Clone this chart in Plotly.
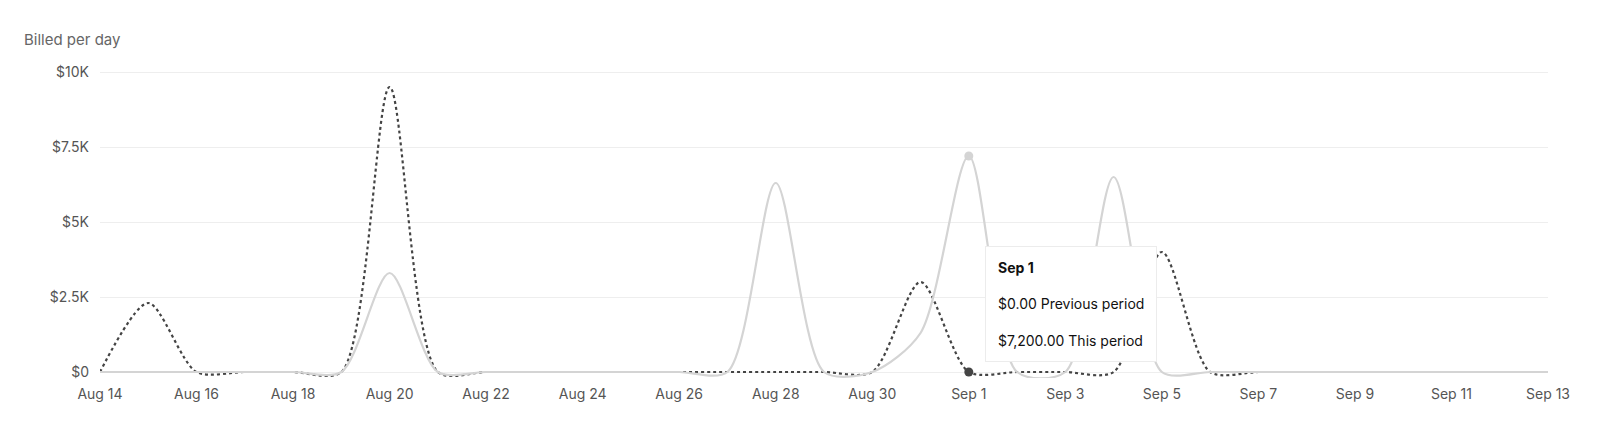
import pandas as pd
import plotly.graph_objects as go

# data
dates = pd.date_range("2024-08-14", "2024-09-13", freq="D")
previous = [0, 2300, 0, 0, 0, 0, 9500, 0, 0, 0, 0, 0, 0, 0, 0, 0, 0, 3000, 0, 0, 0, 0, 4000, 0,
            0, 0, 0, 0, 0, 0, 0]
this_period = [0, 0, 0, 0, 0, 0, 3300, 0, 0, 0, 0, 0, 0, 0, 6300, 0, 0, 1300, 7200, 0, 0, 6500, 0, 0,
               0, 0, 0, 0, 0, 0, 0]
tick_dates = dates[::2]
tick_text = [d.strftime("%b ") + str(d.day) for d in tick_dates]
y_ticks = [0, 2500, 5000, 7500, 10000]
y_labels = ["$0", "$2.5K", "$5K", "$7.5K", "$10K"]
hover_idx = 18  # Sep 1

fig = go.Figure()
fig.add_trace(go.Scatter(
    x=dates, y=previous, name="Previous period", mode="lines",
    line=dict(color="#444444", width=2.2, dash="3px,3px", shape="spline", smoothing=0.8),
))
fig.add_trace(go.Scatter(
    x=dates, y=this_period, name="This period", mode="lines",
    line=dict(color="#d4d4d4", width=2.2, shape="spline", smoothing=0.8),
))
# hover markers
fig.add_trace(go.Scatter(
    x=[dates[hover_idx]], y=[this_period[hover_idx]], mode="markers",
    marker=dict(color="#d4d4d4", size=9), showlegend=False, cliponaxis=False,
))
fig.add_trace(go.Scatter(
    x=[dates[hover_idx]], y=[previous[hover_idx]], mode="markers",
    marker=dict(color="#444444", size=9), showlegend=False, cliponaxis=False,
))

tooltip = ("<b style='font-weight:500'>Sep 1</b><br><br>$%s Previous period<br><br>$%s This period"
           % (format(previous[hover_idx], ",.2f"), format(this_period[hover_idx], ",.2f")))
fig.add_annotation(
    x=dates[hover_idx], y=2270, xref="x", yref="y",
    xanchor="left", yanchor="middle", xshift=16, showarrow=False, align="left",
    text=tooltip, font=dict(family="Inter", size=14, color="#111111"),
    bgcolor="white", bordercolor="#ececec", borderwidth=1, borderpad=12,
)

fig.update_layout(
    width=1600, height=436,
    paper_bgcolor="white", plot_bgcolor="white",
    margin=dict(l=92, r=60, t=58, b=66),
    showlegend=False,
    font=dict(family="Inter", size=14, color="#555555"),
    title=dict(text="Billed per day", x=0.01, xanchor="left", y=0.94,
               font=dict(size=15, color="#666666")),
)
fig.update_xaxes(
    range=[dates[0], dates[-1]], tickvals=tick_dates, ticktext=tick_text,
    showgrid=False, zeroline=False, showline=False, ticks="", automargin=False,
    ticklabelstandoff=6,
)
fig.update_yaxes(
    range=[-200, 10200], tickvals=y_ticks, ticktext=y_labels,
    gridcolor="#eeeeee", zeroline=False, showline=False, ticks="", ticklabelstandoff=10,
    automargin=False,
)

fig.write_html("out.html")
